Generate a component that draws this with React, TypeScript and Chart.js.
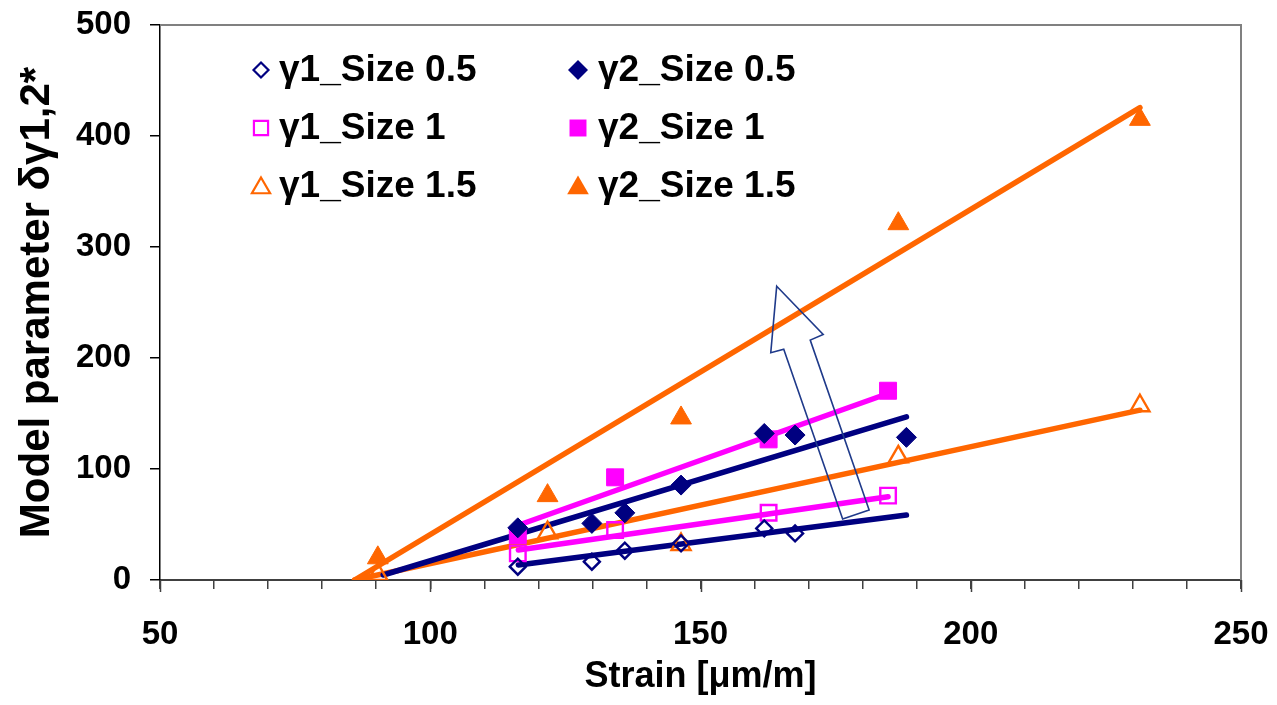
import React, { useEffect, useRef } from 'react';
import { Chart, registerables } from 'chart.js';

Chart.register(...registerables);

const NAVY = '#000080';
const MAGENTA = '#FF00FF';
const ORANGE = '#FF6600';
const FONT = '"Liberation Sans", Arial, sans-serif';

// x values (Strain) for each particle size group
const xSize05 = [116.2, 129.9, 136.0, 146.4, 161.8, 167.5, 188.1];
const xSize1 = [116.2, 134.2, 162.6, 184.7];
const xSize15 = [90.3, 121.7, 146.4, 186.6, 231.3];

// model parameter values
const g1Size05 = [12, 16.5, 26.4, 33, 46.5, 42];
const g2Size05 = [47, 51, 60.5, 85.5, 132, 130.6, 128.5];
const g1Size1 = [24, 45, 60.6, 76];
const g2Size1 = [40.5, 92.5, 126.7, 170.5];
const g1Size15 = [5, 42.6, 32, 111, 157];
const g2Size15 = [20, 76, 146, 321, 415];

// trend line end points
const fitXg1Size05 = [116.3, 188.1];
const fitYg1Size05 = [13.5, 58.5];
const fitXg2Size05 = [91.3, 188.1];
const fitYg2Size05 = [4.5, 147];
const fitXg1Size1 = [116.3, 184.7];
const fitYg1Size1 = [27, 75];
const fitXg2Size1 = [115.5, 184.7];
const fitYg2Size1 = [48, 168];
const fitXg1Size15 = [86, 231.3];
const fitYg1Size15 = [0, 153];
const fitXg2Size15 = [86, 231.3];
const fitYg2Size15 = [0, 425.6];

// hollow arrow annotation outline (data units)
const arrowX = [164.1, 172.7, 170.3, 181.2, 176.3, 165.4, 163.0];
const arrowY = [264.7, 221.2, 216.1, 63, 54.9, 208, 204.7];

// axis ticks
const yTicks = [0, 100, 200, 300, 400, 500];
const xLabelTicks = [50, 100, 150, 200, 250];

const legendLabels = [
  ['γ1_Size 0.5', 'γ2_Size 0.5'],
  ['γ1_Size 1', 'γ2_Size 1'],
  ['γ1_Size 1.5', 'γ2_Size 1.5'],
];

const pts = (xs: number[], ys: number[]) => ys.map((y, i) => ({ x: xs[i], y }));

function drawMarker(ctx: CanvasRenderingContext2D, kind: string, filled: boolean, color: string, x: number, y: number, r: number) {
  ctx.save();
  ctx.beginPath();
  if (kind === 'diamond') {
    ctx.moveTo(x - r, y);
    ctx.lineTo(x, y - r);
    ctx.lineTo(x + r, y);
    ctx.lineTo(x, y + r);
  } else if (kind === 'square') {
    const s = r * Math.SQRT1_2;
    ctx.rect(x - s, y - s, 2 * s, 2 * s);
  } else {
    const h = Math.sqrt(3) / 2 * r;
    ctx.moveTo(x, y - r);
    ctx.lineTo(x + h, y + r / 2);
    ctx.lineTo(x - h, y + r / 2);
  }
  ctx.closePath();
  if (filled) {
    ctx.fillStyle = color;
    ctx.fill();
  } else {
    ctx.strokeStyle = color;
    ctx.lineWidth = 2.2;
    ctx.stroke();
  }
  ctx.restore();
}

const decorPlugin = {
  id: 'decor',
  afterDatasetsDraw(chart: any) {
    const { ctx, scales } = chart;
    const xs = scales.x;
    const ys = scales.y;
    // arrow
    ctx.save();
    ctx.beginPath();
    arrowX.forEach((v, i) => {
      const px = xs.getPixelForValue(v);
      const py = ys.getPixelForValue(arrowY[i]);
      if (i === 0) ctx.moveTo(px, py);
      else ctx.lineTo(px, py);
    });
    ctx.closePath();
    ctx.strokeStyle = '#1F3A8A';
    ctx.lineWidth = 1.6;
    ctx.stroke();
    ctx.restore();
  },
  afterDraw(chart: any) {
    const { ctx, chartArea, scales } = chart;
    // top & right frame
    ctx.save();
    ctx.strokeStyle = '#808080';
    ctx.lineWidth = 2;
    ctx.beginPath();
    ctx.moveTo(chartArea.left, chartArea.top);
    ctx.lineTo(chartArea.right, chartArea.top);
    ctx.lineTo(chartArea.right, chartArea.bottom);
    ctx.stroke();
    // longer major ticks on x axis
    ctx.strokeStyle = '#404040';
    ctx.lineWidth = 1.5;
    xLabelTicks.forEach((v) => {
      const px = Math.round(scales.x.getPixelForValue(v)) + 0.5;
      ctx.beginPath();
      ctx.moveTo(px, chartArea.bottom);
      ctx.lineTo(px, chartArea.bottom + 12);
      ctx.stroke();
    });
    ctx.restore();

    // legend
    const kinds = ['diamond', 'square', 'triangle'];
    const colors = [NAVY, MAGENTA, ORANGE];
    const colMarkerX = [261, 578];
    const colTextX = [279, 598];
    const rowY = [70, 128, 186];
    const openR = [7.5, 10, 10.5];
    const fillR = [10, 12, 12.5];
    ctx.save();
    ctx.font = `bold 37px ${FONT}`;
    ctx.fillStyle = '#000';
    ctx.textBaseline = 'middle';
    ctx.textAlign = 'left';
    for (let r = 0; r < 3; r++) {
      for (let c = 0; c < 2; c++) {
        const rad = c === 0 ? openR[r] : fillR[r];
        const my = kinds[r] === 'triangle' ? rowY[r] + 2 : rowY[r];
        drawMarker(ctx, kinds[r], c === 1, colors[r], colMarkerX[c], my, rad);
        ctx.fillText(legendLabels[r][c], colTextX[c], rowY[r] + 1);
      }
    }
    ctx.restore();
  },
};

export default function App() {
  const ref = useRef<HTMLCanvasElement | null>(null);
  useEffect(() => {
    if (!ref.current) return;
    const lineDs = (xs: number[], ys: number[], color: string) => ({
      data: pts(xs, ys),
      showLine: true,
      borderColor: color,
      borderWidth: 5.5,
      borderCapStyle: 'round' as const,
      pointRadius: 0,
      pointHoverRadius: 0,
      order: 2,
    });
    const markDs = (xs: number[], ys: number[], color: string, style: string, filled: boolean, r: number) => ({
      data: pts(xs, ys),
      showLine: false,
      pointStyle: style,
      pointRadius: r,
      pointHoverRadius: r,
      pointBackgroundColor: filled ? color : 'rgba(0,0,0,0)',
      pointBorderColor: color,
      pointBorderWidth: filled ? 1 : 2.4,
      borderColor: color,
      backgroundColor: filled ? color : 'rgba(0,0,0,0)',
      order: 1,
    });
    const chart = new Chart(ref.current, {
      type: 'scatter',
      data: {
        datasets: [
          markDs(xSize05, g1Size05, NAVY, 'rectRot', false, 8),
          markDs(xSize05, g2Size05, NAVY, 'rectRot', true, 10),
          markDs(xSize1, g1Size1, MAGENTA, 'rect', false, 11),
          markDs(xSize1, g2Size1, MAGENTA, 'rect', true, 12),
          markDs(xSize15, g1Size15, ORANGE, 'triangle', false, 11),
          markDs(xSize15, g2Size15, ORANGE, 'triangle', true, 12),
          lineDs(fitXg1Size05, fitYg1Size05, NAVY),
          lineDs(fitXg2Size05, fitYg2Size05, NAVY),
          lineDs(fitXg1Size1, fitYg1Size1, MAGENTA),
          lineDs(fitXg2Size1, fitYg2Size1, MAGENTA),
          lineDs(fitXg1Size15, fitYg1Size15, ORANGE),
          lineDs(fitXg2Size15, fitYg2Size15, ORANGE),
        ] as any,
      },
      options: {
        animation: false,
        responsive: true,
        maintainAspectRatio: false,
        layout: { padding: { top: 25, right: 36, left: 0, bottom: 0 } },
        plugins: { legend: { display: false }, tooltip: { enabled: false } },
        scales: {
          x: {
            type: 'linear',
            min: 50,
            max: 250,
            afterFit: (s: any) => {
              s.height = 125;
              s.paddingLeft = 0;
              s.paddingRight = 0;
            },
            afterBuildTicks: (s: any) => {
              const t = [];
              for (let v = 50; v <= 250; v += 10) t.push({ value: v });
              s.ticks = t;
            },
            ticks: {
              autoSkip: false,
              maxRotation: 0,
              padding: 26,
              color: '#000',
              font: { family: FONT, size: 33, weight: 'bold' },
              callback: (v: any) => (xLabelTicks.includes(Number(v)) ? String(v) : ''),
            },
            grid: { drawOnChartArea: false, drawTicks: true, tickLength: 9, color: '#404040', lineWidth: 1.5 },
            border: { display: true, color: '#404040', width: 2 },
            title: {
              display: true,
              text: 'Strain [μm/m]',
              color: '#000',
              font: { family: FONT, size: 36, weight: 'bold' },
              padding: { top: 0, bottom: 6 },
            },
          },
          y: {
            type: 'linear',
            min: 0,
            max: 500,
            afterFit: (s: any) => {
              s.width = 160;
              s.paddingTop = 0;
              s.paddingBottom = 0;
            },
            afterBuildTicks: (s: any) => { s.ticks = yTicks.map((v) => ({ value: v })); },
            ticks: {
              padding: 19,
              color: '#000',
              font: { family: FONT, size: 33, weight: 'bold' },
            },
            grid: { drawOnChartArea: false, drawTicks: true, tickLength: 10, color: '#000', lineWidth: 1.5 },
            border: { display: true, color: '#000', width: 1.5 },
            title: {
              display: true,
              text: 'Model parameter δγ1,2*',
              color: '#000',
              font: { family: FONT, size: 42, weight: 'bold' },
              padding: { top: 12, bottom: 0 },
            },
          },
        },
      },
      plugins: [decorPlugin],
    });
    return () => chart.destroy();
  }, []);
  return (
    <div style={{ position: 'fixed', left: 0, top: 0, width: 1277, height: 705, background: '#fff' }}>
      <canvas ref={ref} />
    </div>
  );
}
